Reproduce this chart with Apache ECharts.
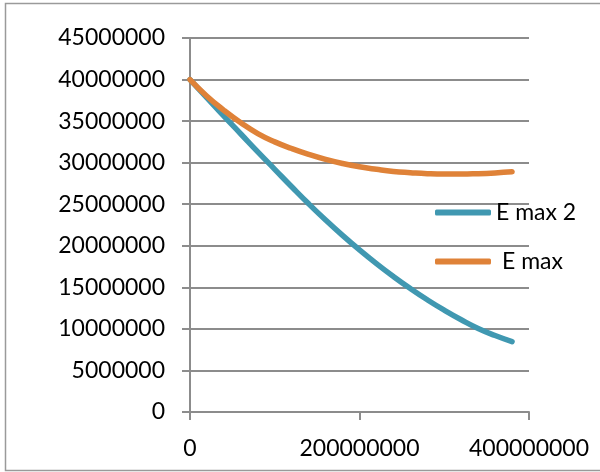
<!DOCTYPE html>
<html>
<head>
<meta charset="utf-8">
<script src="https://cdn.jsdelivr.net/npm/echarts@6/dist/echarts.min.js"></script>
<style>
html,body{margin:0;padding:0;background:#fff;}
#chart{width:600px;height:472px;}
</style>
</head>
<body>
<div id="chart"></div>
<script>
const xValues = [0, 20000000, 40000000, 60000000, 80000000, 100000000, 120000000, 140000000, 160000000, 180000000, 200000000, 220000000, 240000000, 260000000, 280000000, 300000000, 320000000, 340000000, 360000000, 380000000];
const eMax2 = [40000000, 37800000, 35600000, 33450000, 31300000, 29200000, 27100000, 25050000, 23100000, 21250000, 19500000, 17850000, 16300000, 14850000, 13500000, 12250000, 11100000, 10050000, 9200000, 8460000];
const eMax = [40000000, 38000000, 36300000, 34800000, 33500000, 32500000, 31700000, 31000000, 30400000, 29900000, 29500000, 29200000, 28950000, 28800000, 28680000, 28630000, 28630000, 28680000, 28770000, 28900000];
const xTicks = [0, 200000000, 400000000];
const seriesNames = ['E max 2', 'E max'];

const chart = echarts.init(document.getElementById('chart'), null, {renderer: 'canvas'});
const font = 'Lato';
const gray = '#8c8c8c';
const pair = (arr) => xValues.map((x, i) => [x, arr[i]]);

chart.setOption({
  animation: false,
  backgroundColor: '#fff',
  graphic: [{
    type: 'rect', shape: {x: 5.5, y: 3.5, width: 600, height: 467},
    style: {fill: 'none', stroke: '#9a9a9a', lineWidth: 1.5}, silent: true
  }],
  grid: {left: 190, right: 71, top: 38, bottom: 60},
  legend: [
    {data: [seriesNames[0]], left: 435, top: 201, padding: 0, orient: 'vertical', icon: 'roundRect', itemWidth: 56, itemHeight: 6, itemGap: 0,
     textStyle: {fontFamily: font, fontSize: 23, color: '#000', padding: [0, 0, 0, 0]}},
    {data: [seriesNames[1]], left: 435, top: 250, padding: 0, orient: 'vertical', icon: 'roundRect', itemWidth: 56, itemHeight: 6, itemGap: 0,
     textStyle: {fontFamily: font, fontSize: 23, color: '#000', padding: [0, 0, 0, 6]}}
  ],
  xAxis: {
    type: 'value', min: 0, max: 400000000, interval: 200000000,
    axisLine: {show: true, onZero: false, lineStyle: {color: gray, width: 2}},
    axisTick: {show: true, length: 8, lineStyle: {color: gray, width: 2}},
    splitLine: {show: false},
    axisLabel: {fontFamily: font, fontSize: 23, color: '#000', margin: 25, formatter: v => String(v)}
  },
  yAxis: {
    type: 'value', min: 0, max: 45000000, interval: 5000000,
    axisLine: {show: true, lineStyle: {color: gray, width: 2}},
    axisTick: {show: true, length: 8, lineStyle: {color: gray, width: 2}},
    splitLine: {show: true, lineStyle: {color: gray, width: 2}},
    axisLabel: {fontFamily: font, fontSize: 23, color: '#000', margin: 25, formatter: v => String(v)}
  },
  series: [
    {name: seriesNames[0], type: 'line', smooth: true, symbol: 'none', data: pair(eMax2),
     lineStyle: {color: '#4098b1', width: 5.5, cap: 'round'}, itemStyle: {color: '#4098b1'}, z: 3},
    {name: seriesNames[1], type: 'line', smooth: true, symbol: 'none', data: pair(eMax),
     lineStyle: {color: '#df8238', width: 5.5, cap: 'round'}, itemStyle: {color: '#df8238'}, z: 4}
  ]
});
</script>
</body>
</html>
